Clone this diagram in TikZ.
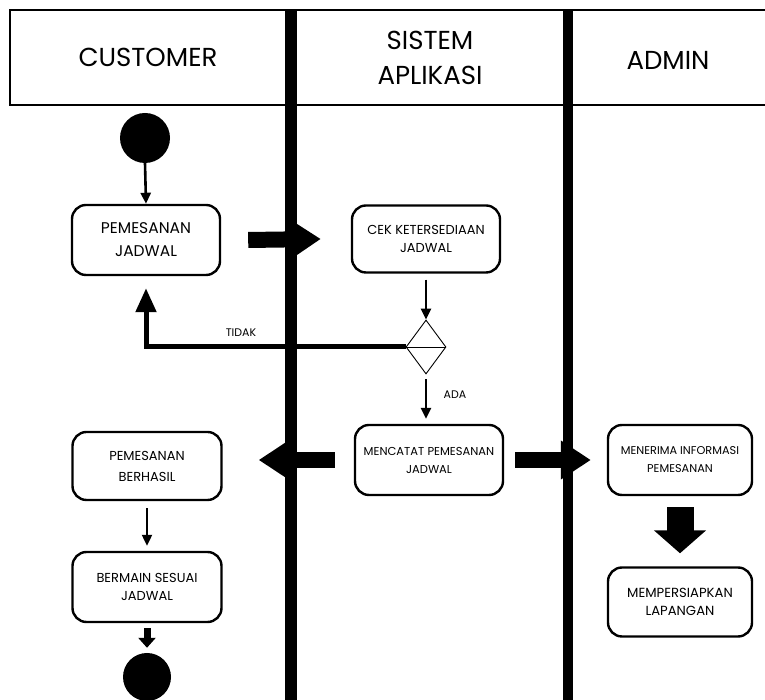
\documentclass[tikz,border=0pt]{standalone}
\usepackage{fontspec}
\setmainfont{Poppins}
\usetikzlibrary{arrows.meta, shapes.geometric, calc}

\newcommand{\boxsize}[1]{\fontsize{#1}{18}\selectfont}

\tikzset{
  activity/.style={draw, line width=2.4pt, rounded corners=14pt,
    minimum width=148pt, minimum height=70pt, align=center, inner sep=2pt,
    font=\boxsize{11}},
  lane/.style={line width=#1},
  thinflow/.style={line width=2.6pt, -{Triangle[length=11pt, width=10pt]}},
  blockflow/.style={line width=16pt, -{Triangle[length=30pt, width=37pt]}},
  lanetitle/.style={font=\fontsize{26}{35}\selectfont, align=center},
  guard/.style={font=\fontsize{11}{13}\selectfont},
}

\begin{document}
\begin{tikzpicture}[x=1pt, y=1pt]
  \useasboundingbox (0,0) rectangle (765,700);

  % ── Header and swimlanes ─────────────────────────────────────────
  \draw[line width=2pt] (765,690) -- (10,690) -- (10,595) -- (765,595);
  \draw[lane=12pt] (291,690) -- (291,0);
  \draw[lane=10pt] (568,690) -- (568,0);

  \node[lanetitle] (customer) at (148,643) {CUSTOMER};
  \node[lanetitle] (sistem)   at (430,642) {SISTEM\\APLIKASI};
  \node[lanetitle] (admin)    at (668,640) {ADMIN};

  % ── Customer lane ─────────────────────────────────────────────────
  \node[circle, fill, minimum size=50pt, inner sep=0pt] (start) at (145,562) {};
  \node[activity, font=\fontsize{15.5}{23}\selectfont] (pesan) at (146,460) {PEMESANAN\\JADWAL};
  \node[activity, minimum width=149pt, minimum height=68pt, font=\fontsize{13}{21}\selectfont] (berhasil) at (147,234) {PEMESANAN\\BERHASIL};
  \node[activity, minimum width=149pt, font=\boxsize{13}] (bermain) at (147,113) {BERMAIN SESUAI\\JADWAL};
  \node[circle, fill, minimum size=48pt, inner sep=0pt] (finish) at (147,23) {};

  % ── Sistem aplikasi lane ──────────────────────────────────────────
  \node[activity, minimum height=67pt, font=\boxsize{13}] (cek) at (426,461) {CEK KETERSEDIAAN\\JADWAL};
  \node[diamond, draw, line width=0.9pt, minimum width=40pt, minimum height=54pt,
        inner sep=0pt] (pilih) at (426,353) {};
  \draw[line width=0.9pt] (pilih.west) -- (pilih.east);
  \node[activity, font=\boxsize{11.5}] (catat) at (429,240) {MENCATAT PEMESANAN\\JADWAL};

  % ── Admin lane ────────────────────────────────────────────────────
  \node[activity, minimum width=144pt, font=\boxsize{11.3}] (terima) at (680,240) {MENERIMA INFORMASI\\PEMESANAN};
  \node[activity, minimum width=144pt, minimum height=69pt, font=\boxsize{13.2}] (siap) at (680,98) {MEMPERSIAPKAN\\LAPANGAN};

  % ── Flows ─────────────────────────────────────────────────────────
  \draw[thinflow] (start.south) -- (pesan.north);
  \draw[blockflow] ([xshift=27pt]pesan.east) -- ([xshift=-30pt]cek.west);
  \draw[thinflow] ([yshift=-6pt]cek.south) -- (pilih.north);
  \draw[line width=5pt, -{Triangle[length=24pt, width=20pt]}]
    (pilih.west) -| ([yshift=-12pt]pesan.south);
  \node[guard] (tidak) at (241,367) {TIDAK};
  \draw[thinflow] ([yshift=-5pt]pilih.south) -- ([yshift=5pt]pilih.south |- catat.north);
  \node[guard] (ada) at (455,305) {ADA};
  \draw[blockflow] ([xshift=-19pt]catat.west) -- ([xshift=36pt]berhasil.east |- catat.west);
  \draw[blockflow] ([xshift=11pt]catat.east) -- ([xshift=-16pt]terima.west);
  \draw[thinflow, line width=2.2pt] ([yshift=-7pt]berhasil.south) -- ([yshift=5pt]bermain.north);
  \draw[line width=7pt, -{Triangle[length=10pt, width=17pt]}]
    ([yshift=-5pt]bermain.south) -- ([yshift=5pt]finish.north);
  \draw[line width=27pt, -{Triangle[length=23pt, width=51pt]}]
    ([yshift=-11pt]terima.south) -- ([yshift=13pt]siap.north);
\end{tikzpicture}
\end{document}
